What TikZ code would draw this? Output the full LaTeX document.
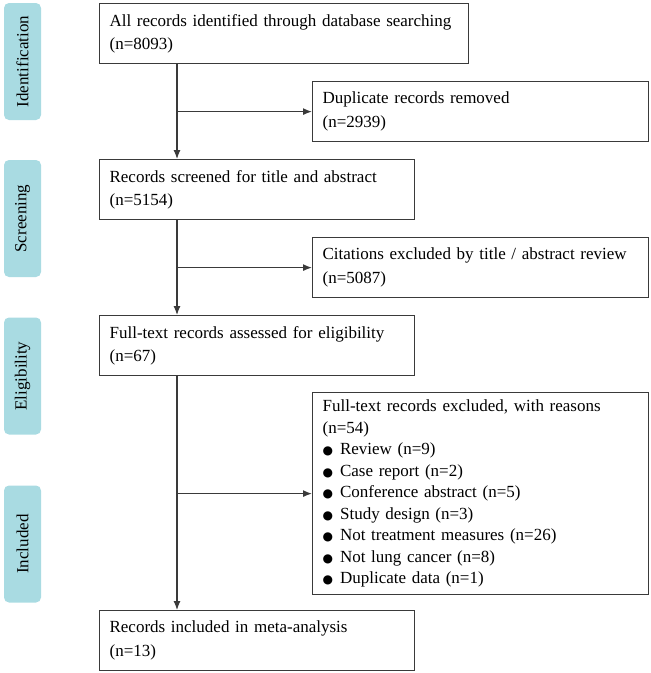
\documentclass[tikz,border=0pt]{standalone}
\usepackage{fontspec}
\setmainfont{Liberation Serif}
\newfontfamily\dotfont{DejaVu Sans}
\usetikzlibrary{arrows.meta}

\definecolor{stagecol}{HTML}{A9DBE2}
\definecolor{linecol}{HTML}{3A3A3A}

\tikzset{
  recbox/.style={draw=linecol, line width=1.2pt, anchor=north west, align=left,
    inner xsep=10pt, inner ysep=0pt, minimum height=60pt,
    font=\fontsize{17}{23.5}\selectfont},
  stagebox/.style={fill=stagecol, rounded corners=5pt, rotate=90,
    minimum width=117pt, minimum height=37pt, inner sep=0pt,
    font=\fontsize{17}{20}\selectfont},
  flow/.style={draw=linecol, line width=1.2pt, -{Latex[length=9pt,width=7pt]}}
}
\newcommand{\dotitem}{{\dotfont\fontsize{12}{12}\selectfont ●}\hspace{7pt}}

\begin{document}
\begin{tikzpicture}[x=1pt,y=-1pt]
  \useasboundingbox (0,0) rectangle (651,673);

  % stages
  \node[stagebox](SI) at (22.5,61.5) {Identification};
  \node[stagebox](SS) at (22.5,218.5) {Screening};
  \node[stagebox](SE) at (22.5,376) {Eligibility};
  \node[stagebox](SN) at (22.5,544) {Included};

  % main column
  \node[recbox, text width=349pt](ident) at (99,3)
    {All records identified through database searching\\(n=8093)};
  \node[recbox, text width=295pt](screen) at (99,159)
    {Records screened for title and abstract\\(n=5154)};
  \node[recbox, text width=295pt](full) at (99,315)
    {Full-text records assessed for eligibility\\(n=67)};
  \node[recbox, text width=295pt](incl) at (99,610)
    {Records included in meta-analysis\\(n=13)};

  % side column
  \node[recbox, text width=316pt](dup) at (312,81)
    {Duplicate records removed\\(n=2939)};
  \node[recbox, text width=316pt](cit) at (312,237)
    {Citations excluded by title / abstract review\\(n=5087)};
  \node[recbox, text width=316pt, minimum height=202pt,
    font=\fontsize{17}{21.5}\selectfont](excl) at (312,392)
    {Full-text records excluded, with reasons\\(n=54)\\
     \dotitem Review (n=9)\\
     \dotitem Case report (n=2)\\
     \dotitem Conference abstract (n=5)\\
     \dotitem Study design (n=3)\\
     \dotitem Not treatment measures (n=26)\\
     \dotitem Not lung cancer (n=8)\\
     \dotitem Duplicate data (n=1)};

  \coordinate(spine) at (177,0);

  \draw[flow] (ident.south -| spine) -- (screen.north -| spine);
  \draw[flow] (screen.south -| spine) -- (full.north -| spine);
  \draw[flow] (full.south -| spine) -- (incl.north -| spine);

  \draw[flow] (dup.west -| spine) -- (dup.west);
  \draw[flow] (cit.west -| spine) -- (cit.west);
  \draw[flow] (excl.west -| spine) -- (excl.west);
\end{tikzpicture}
\end{document}
